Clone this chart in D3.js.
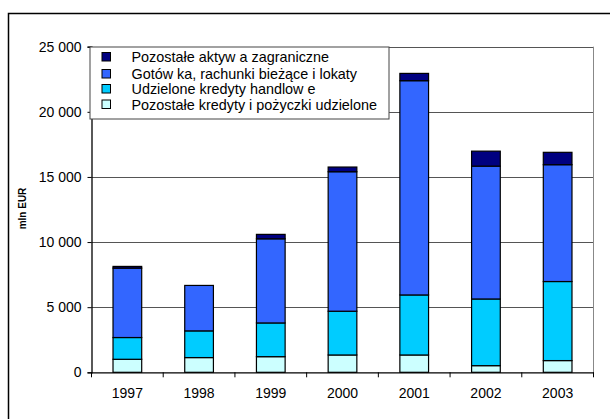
<!DOCTYPE html>
<html><head><meta charset="utf-8">
<script src="https://cdn.jsdelivr.net/npm/d3@7"></script>
<style>body{margin:0;background:#fff}svg{display:block;font-family:"Liberation Sans",Arial,sans-serif}</style>
</head><body>
<svg id="c" width="610" height="419"></svg>
<script>
const years = ["1997","1998","1999","2000","2001","2002","2003"];
const pozostaleKredyty = [1000, 1130, 1200, 1330, 1330, 510, 900];
const kredytyHandlowe = [1670, 2050, 2590, 3360, 4610, 5120, 6070];
const gotowka = [5330, 3490, 6460, 10710, 16450, 10200, 8970];
const aktywaZagr = [130, 0, 340, 360, 560, 1150, 950];
const yTicks = [0, 5000, 10000, 15000, 20000, 25000];
const seriesNames = ["Pozostałe kredyty i pożyczki udzielone","Udzielone kredyty handlow e","Gotów ka, rachunki bieżące i lokaty","Pozostałe aktyw a zagraniczne"];
const seriesColors = ["#CCFFFF","#00CCFF","#3366FF","#000080"];

const svg = d3.select("#c");
const m = {l:91.5, r:593.5, t:46.7, b:372.3};

svg.append("rect").attr("x",8.5).attr("y",13.5).attr("width",610).attr("height",420)
  .attr("fill","none").attr("stroke","#000").attr("stroke-width",1.5);

const x = d3.scaleBand().domain(years).range([m.l, m.r]).paddingInner(0.6).paddingOuter(0.3);
const xb = d3.scaleBand().domain(years).range([m.l, m.r]);
const y = d3.scaleLinear().domain([0,25000]).range([m.b, m.t]);

svg.append("g").selectAll("line").data(yTicks.filter(d=>d>0)).join("line")
  .attr("x1",m.l).attr("x2",m.r).attr("y1",d=>Math.round(y(d))+0.5).attr("y2",d=>Math.round(y(d))+0.5)
  .attr("stroke","#555").attr("stroke-width",1);
svg.append("line").attr("x1",m.r).attr("x2",m.r).attr("y1",m.t).attr("y2",m.b).attr("stroke","#888");

const rows = years.map((yr,i)=>({year:yr, s0:pozostaleKredyty[i], s1:kredytyHandlowe[i], s2:gotowka[i], s3:aktywaZagr[i]}));
const stack = d3.stack().keys(["s0","s1","s2","s3"])(rows);
stack.forEach((layer,k)=>{
  svg.append("g").selectAll("rect").data(layer.filter(d=>d[1]-d[0]>0)).join("rect")
    .attr("x",d=>x(d.data.year)).attr("width",x.bandwidth())
    .attr("y",d=>y(d[1])).attr("height",d=>y(d[0])-y(d[1]))
    .attr("fill",seriesColors[k]).attr("stroke","#000").attr("stroke-width",1.2);
});

const ya = d3.axisLeft(y).tickValues(yTicks).tickSize(4).tickPadding(6)
  .tickFormat(d=>d3.format(",")(d).replace(/,/g," "));
const yg = svg.append("g").attr("transform",`translate(${m.l},0)`).call(ya);
yg.select(".domain").attr("stroke","#000").attr("stroke-width",1.3);
yg.selectAll("text").attr("font-size",14).attr("font-family","Liberation Sans, Arial, sans-serif").attr("fill","#000");

const xa = d3.axisBottom(xb).tickSize(0).tickPadding(16);
const xg = svg.append("g").attr("transform",`translate(0,${m.b})`).call(xa);
xg.select(".domain").attr("stroke","#000").attr("stroke-width",1.3);
xg.selectAll("text").attr("font-size",14).attr("font-family","Liberation Sans, Arial, sans-serif").attr("fill","#000");
const bounds = years.map(d=>xb(d)).concat([m.r]);
svg.append("g").selectAll("line").data(bounds).join("line")
  .attr("x1",d=>d).attr("x2",d=>d).attr("y1",m.b).attr("y2",m.b+5).attr("stroke","#000");

svg.append("text").attr("transform","translate(26,208.5) rotate(-90)").attr("text-anchor","middle")
  .attr("font-size",10).attr("font-weight","bold").text("mln EUR");

const lg = svg.append("g");
lg.append("rect").attr("x",90).attr("y",47).attr("width",299).attr("height",72)
  .attr("fill","#fff").attr("stroke","#444").attr("stroke-width",1);
const legOrder = [3,2,1,0];
const legY = [57, 74, 89, 104.5];
legOrder.forEach((k,i)=>{
  lg.append("rect").attr("x",102).attr("y",legY[i]-4.5).attr("width",8.5).attr("height",8.5)
    .attr("fill",seriesColors[k]).attr("stroke","#000").attr("stroke-width",1);
  lg.append("text").attr("x",131.5).attr("y",legY[i]).attr("dy","0.35em")
    .attr("font-size",14.4).text(seriesNames[k]);
});
</script>
</body></html>
